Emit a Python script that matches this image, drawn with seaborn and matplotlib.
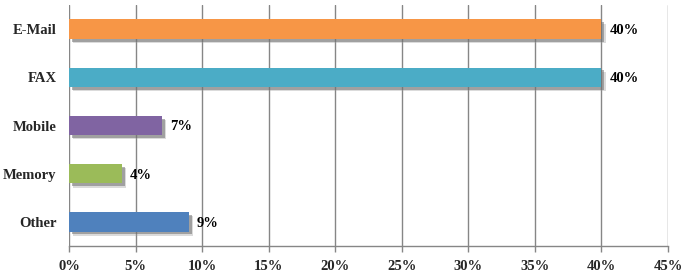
import matplotlib
matplotlib.use("Agg")
import matplotlib.pyplot as plt
import matplotlib.patheffects as pe
import seaborn as sns
import pandas as pd

categories = ["E-Mail", "FAX", "Mobile", "Memory", "Other"]
values = [40, 40, 7, 4, 9]
colors = ["#F79646", "#4BACC6", "#8064A2", "#9BBB59", "#4F81BD"]
xticks = [0, 5, 10, 15, 20, 25, 30, 35, 40, 45]

sns.set_theme(style="white")
plt.rcParams['font.family'] = ['Liberation Serif', 'DejaVu Serif']
plt.rcParams['font.weight'] = 'bold'

df = pd.DataFrame({"cat": categories, "val": values})

fig = plt.figure(figsize=(6.93, 2.78), dpi=100)
ax = fig.add_axes([69/693, 1-246/278, (668-69)/693, (246-5)/278])

sns.barplot(data=df, y="cat", x="val", hue="cat", palette=colors, orient="h",
            width=0.4, ax=ax, legend=False, saturation=1, zorder=3)

for p in ax.patches:
    p.set_path_effects([
        pe.SimplePatchShadow(offset=(3.0, -3.0), shadow_rgbFace=(0.6, 0.6, 0.6), alpha=0.35),
        pe.SimplePatchShadow(offset=(2.0, -2.0), shadow_rgbFace=(0.4, 0.4, 0.4), alpha=0.5),
        pe.Normal()])
    p.set_edgecolor("none")

for i, v in enumerate(values):
    ax.text(v + 0.6, i + 0.03, f"{v}%", va="center", ha="left", fontsize=10.5, fontweight="bold", color="black")

ax.set_xlim(0, 45)
ax.set_ylim(4.5, -0.5)
ax.set_xticks(xticks)
ax.set_xticklabels([f"{t}%" for t in xticks], fontsize=10.5, fontweight="bold")
ax.tick_params(axis="y", labelsize=10.5, length=0, pad=9)
ax.tick_params(axis="x", length=4, width=1, color="#868686", direction="out", pad=6, bottom=True)
for lab in ax.get_yticklabels():
    lab.set_fontweight("bold")
ax.set_xlabel("")
ax.set_ylabel("")
ax.grid(axis="x", color="#868686", linewidth=1, zorder=0)
ax.set_axisbelow(True)
for s in ["top", "right", "left"]:
    ax.spines[s].set_visible(False)
ax.spines["bottom"].set_color("#868686")
ax.spines["bottom"].set_linewidth(1)

fig.savefig("out.png", dpi=100)
